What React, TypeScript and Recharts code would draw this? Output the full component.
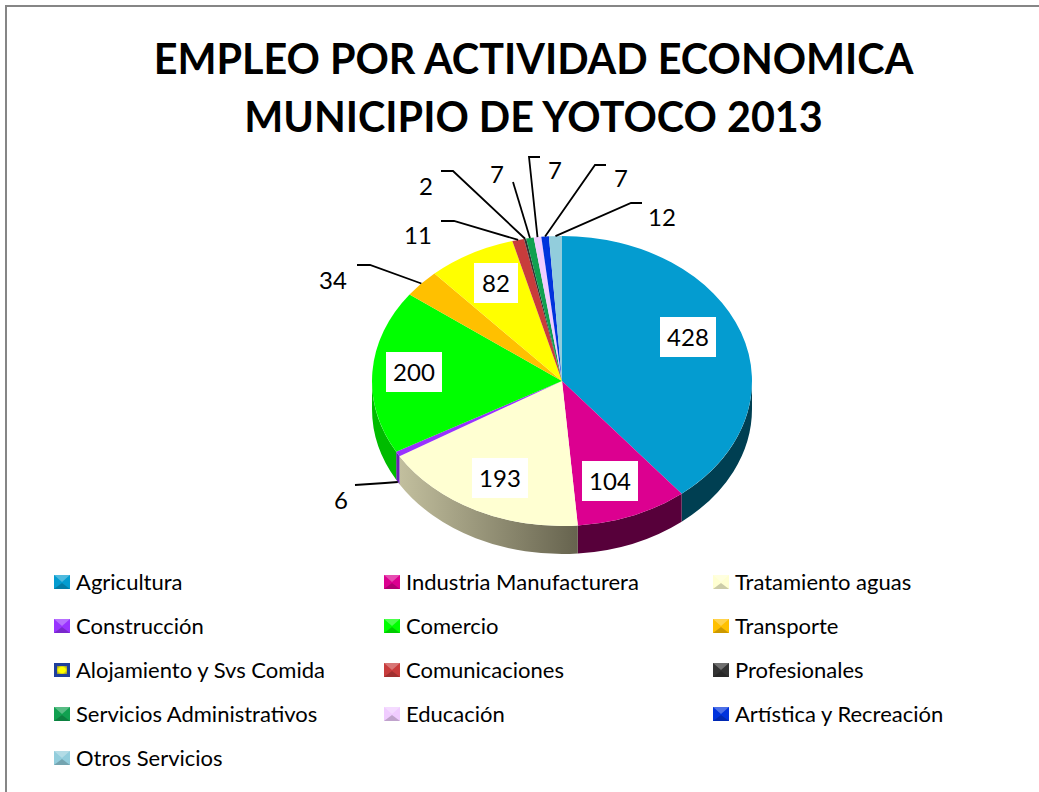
import { Cell, Legend, Pie, PieChart } from "recharts";

const categories = [
  "Agricultura",
  "Industria Manufacturera",
  "Tratamiento aguas",
  "Construcción",
  "Comercio",
  "Transporte",
  "Alojamiento y Svs Comida",
  "Comunicaciones",
  "Profesionales",
  "Servicios Administrativos",
  "Educación",
  "Artística y Recreación",
  "Otros Servicios",
];
const values = [428, 104, 193, 6, 200, 34, 82, 11, 2, 7, 7, 7, 12];
const colors = [
  "#049cd0", "#dc0090", "#ffffd2", "#9933ff", "#00ff00", "#ffc000", "#ffff00",
  "#c83c3c", "#333333", "#10a050", "#f0ccff", "#0033dd", "#92cddc",
];
const wallColors = [
  "#003f52", "#57003a", "url(#creamWall)", "#6a1fb5", "#00bb00", "#aa8000", "#aaaa00",
  "#802020", "#222222", "#0a6030", "#a088aa", "#002090", "#608890",
];
const pieData = categories.map((name, i) => ({ name, value: values[i] }));

// layout of the data labels, by slice
const labelCenters = [
  [688, 336], [610, 480], [500, 477], [341, 499], [414, 371], [333, 279], [496, 282],
  [418, 234], [426, 185], [497, 173], [555, 169], [621, 177], [662, 216],
];
const leaderElbows: Record<number, number[][]> = {
  3: [[355, 485], [385, 483]],
  5: [[357, 265], [370, 265]],
  7: [[441, 221], [454, 221]],
  8: [[441, 171], [453, 171]],
  9: [[513, 182]],
  10: [[540, 157], [529, 157]],
  11: [[606, 165], [595, 165]],
  12: [[642, 203], [631, 203]],
};
const boxedLabels = [0, 1, 2, 4, 6];

const legendCols = [53, 383, 712];
const legendRowTop = 568;
const legendRowGap = 44;

const CX = 562;
const CY = 381;
const RX = 190;
const SQUASH = 145 / 190;
const DEPTH = 28;
const FONT = "Lato, Carlito, sans-serif";

const rad = (a: number) => (a * Math.PI) / 180;

const sectorPath = (p: any) => {
  const ry = p.outerRadius * SQUASH;
  const x1 = p.cx + p.outerRadius * Math.cos(rad(p.startAngle));
  const y1 = p.cy - ry * Math.sin(rad(p.startAngle));
  const x2 = p.cx + p.outerRadius * Math.cos(rad(p.endAngle));
  const y2 = p.cy - ry * Math.sin(rad(p.endAngle));
  const large = Math.abs(p.startAngle - p.endAngle) > 180 ? 1 : 0;
  return `M${p.cx},${p.cy}L${x1},${y1}A${p.outerRadius},${ry} 0 ${large} 1 ${x2},${y2}Z`;
};

const TopShape = (props: any) => <path d={sectorPath(props)} fill={props.fill} />;

// side of the disc: only the part of a slice that faces the viewer
const WallShape = (props: any) => {
  const { cx, cy, outerRadius, index } = props;
  const ry = outerRadius * SQUASH;
  const start = Math.min(props.startAngle, 0);
  const end = Math.max(props.endAngle, -180);
  if (start <= end) return <g />;
  const x1 = cx + outerRadius * Math.cos(rad(start));
  const y1 = cy - ry * Math.sin(rad(start));
  const x2 = cx + outerRadius * Math.cos(rad(end));
  const y2 = cy - ry * Math.sin(rad(end));
  const d = `M${x1},${y1}A${outerRadius},${ry} 0 0 1 ${x2},${y2}L${x2},${y2 + DEPTH}A${outerRadius},${ry} 0 0 0 ${x1},${y1 + DEPTH}Z`;
  return <path d={d} fill={wallColors[index]} />;
};

const renderLabel = (props: any) => {
  const { index, midAngle, cx, cy, outerRadius, value } = props;
  const [lx, ly] = labelCenters[index];
  const s = Math.sin(rad(midAngle));
  const ax = cx + outerRadius * Math.cos(rad(midAngle));
  const ay = cy - outerRadius * SQUASH * s + (s < 0 ? DEPTH : 0);
  const elbows = leaderElbows[index];
  const boxW = String(value).length * 12 + 20;
  return (
    <g key={index}>
      {elbows && (
        <polyline
          points={[...elbows, [ax, ay]].map((pt) => pt.join(",")).join(" ")}
          fill="none"
          stroke="#000"
          strokeWidth={1.8}
        />
      )}
      {boxedLabels.includes(index) && (
        <rect x={lx - boxW / 2} y={ly - 19} width={boxW} height={40} fill="#fff" />
      )}
      <text
        x={lx}
        y={ly}
        textAnchor="middle"
        dominantBaseline="central"
        fontFamily={FONT}
        fontSize={24}
        fill="#000"
      >
        {value}
      </text>
    </g>
  );
};

const LegendIcon = ({ color, outlined, id }: { color: string; outlined: boolean; id: string }) => (
  <svg width={18} height={16} style={{ position: "absolute", left: 0, top: 6 }}>
    <defs>
      <radialGradient id={id} cx="50%" cy="50%" r="60%">
        <stop offset="0%" stopColor={color} />
        <stop offset="55%" stopColor={color} />
        <stop offset="100%" stopColor={outlined ? "#9a9a30" : color} />
      </radialGradient>
    </defs>
    <rect x={1} y={1} width={16} height={14} fill={outlined ? "#1f3f9c" : color} />
    {outlined ? (
      <rect x={4} y={4} width={10} height={8} fill={`url(#${id})`} />
    ) : (
      <>
        <polygon points="1,1 17,1 9,8" fill="#fff" fillOpacity={0.3} />
        <polygon points="1,15 17,15 9,9" fill="#000" fillOpacity={0.2} />
      </>
    )}
  </svg>
);

const renderLegend = (props: any) => {
  // the side-wall pie also lands in the payload
  const items = props.payload.filter((item: any) => item.type !== "none");
  return (
    <div>
      {items.map((item: any, i: number) => (
        <div
          key={item.value}
          style={{
            position: "absolute",
            left: legendCols[i % 3],
            top: legendRowTop + Math.floor(i / 3) * legendRowGap,
            paddingLeft: 23,
            fontFamily: FONT,
            fontSize: 22,
            lineHeight: "28px",
            color: "#000",
            whiteSpace: "nowrap",
          }}
        >
          <LegendIcon color={colors[i]} outlined={i === 6} id={`legendIcon${i}`} />
          {item.value}
        </div>
      ))}
    </div>
  );
};

export default function App() {
  return (
    <div
      style={{
        position: "absolute",
        left: 0,
        top: 0,
        width: 1039,
        height: 792,
        overflow: "hidden",
        background: "#fff",
      }}
    >
      <div
        style={{
          position: "absolute",
          left: 5,
          top: 5,
          width: 1040,
          height: 800,
          borderTop: "2px solid #868686",
          borderLeft: "2px solid #868686",
        }}
      />
      <div
        style={{
          position: "absolute",
          left: 0,
          top: 29,
          width: 1067,
          textAlign: "center",
          fontFamily: FONT,
          fontWeight: 700,
          fontSize: 41.3,
          lineHeight: "58px",
          color: "#000",
        }}
      >
        EMPLEO POR ACTIVIDAD ECONOMICA
        <br />
        MUNICIPIO DE YOTOCO 2013
      </div>
      <PieChart
        width={1039}
        height={792}
        margin={{ top: 0, right: 0, bottom: 0, left: 0 }}
        style={{ position: "absolute", left: 0, top: 0 }}
      >
        <defs>
          <linearGradient id="creamWall" gradientUnits="userSpaceOnUse" x1={400} y1={0} x2={578} y2={0}>
            <stop offset="0%" stopColor="#c2bf9e" />
            <stop offset="100%" stopColor="#66634e" />
          </linearGradient>
        </defs>
        <Pie
          data={pieData}
          dataKey="value"
          nameKey="name"
          cx={CX}
          cy={CY}
          outerRadius={RX}
          startAngle={90}
          endAngle={-270}
          stroke="none"
          legendType="none"
          shape={WallShape}
          isAnimationActive={false}
        />
        <Pie
          data={pieData}
          dataKey="value"
          nameKey="name"
          cx={CX}
          cy={CY}
          outerRadius={RX}
          startAngle={90}
          endAngle={-270}
          stroke="none"
          shape={TopShape}
          label={renderLabel}
          labelLine={false}
          isAnimationActive={false}
        >
          {pieData.map((d, i) => (
            <Cell key={d.name} fill={colors[i]} />
          ))}
        </Pie>
        <Legend
          content={renderLegend}
          itemSorter={null}
          wrapperStyle={{ position: "absolute", left: 0, top: 0, bottom: "auto", width: 1039, height: 0 }}
        />
      </PieChart>
    </div>
  );
}
